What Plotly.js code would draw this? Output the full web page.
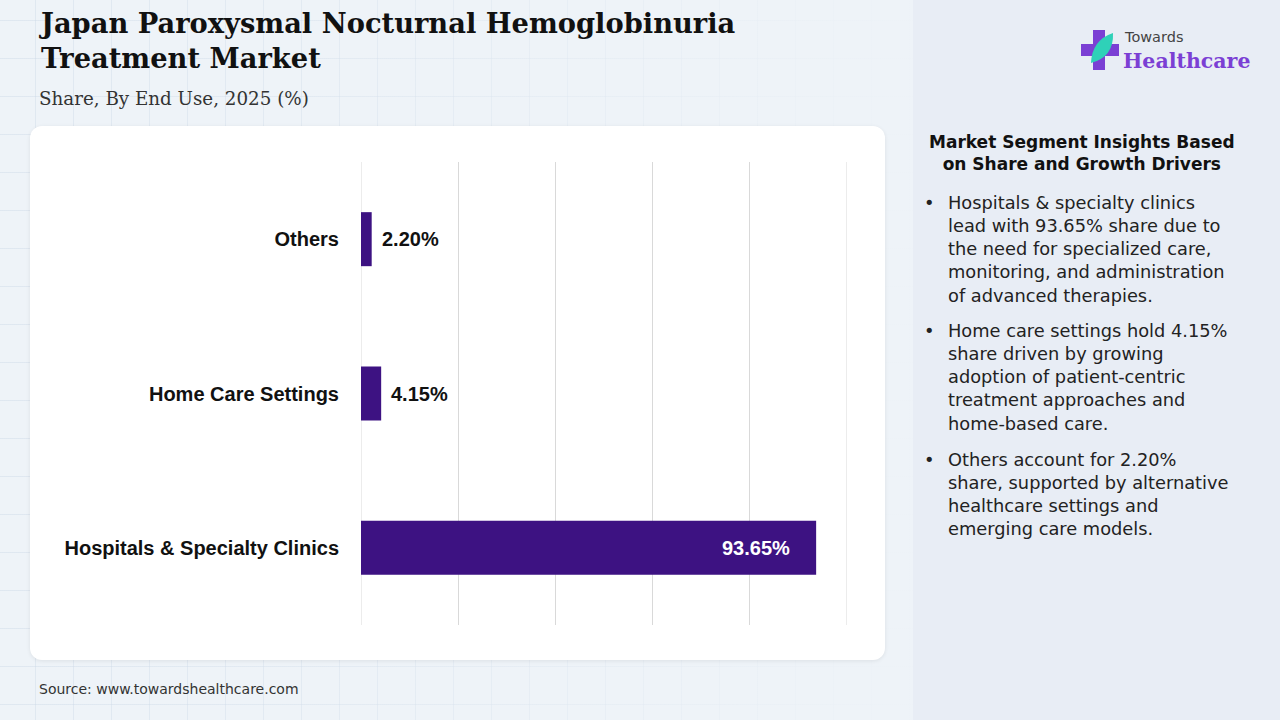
<!DOCTYPE html>
<html>
<head>
<meta charset="utf-8">
<script src="https://cdn.plot.ly/plotly-3.0.1.min.js"></script>
<style>
  html, body { margin:0; padding:0; width:1280px; height:720px; overflow:hidden; }
  body {
    background-color:#eef3f8;
    background-image:
      linear-gradient(to right, rgba(238,243,248,0) 0px, rgba(238,243,248,0.2) 300px, rgba(238,243,248,0.95) 900px),
      linear-gradient(to right, rgba(200,214,229,0.4) 1px, transparent 1px),
      linear-gradient(to bottom, rgba(200,214,229,0.4) 1px, transparent 1px);
    background-size: 100% 100%, 38px 38px, 38px 38px;
    background-position: 0 0, -3px 0, 0 -18px;
    position:relative;
  }
  #panel { position:absolute; left:913px; top:0; width:367px; height:720px; background:#e8edf5; }
  #card { position:absolute; left:30px; top:126px; width:855px; height:534px; background:#ffffff;
          border-radius:12px; box-shadow:0 1px 4px rgba(0,0,0,0.08); }
  #chart { position:absolute; left:0; top:0; width:1280px; height:720px; }
</style>
</head>
<body>
<div id="panel"></div>
<div id="card"></div>
<div id="chart"></div>
<script>
// ---- data ----
const categories = ["Hospitals & Specialty Clinics", "Home Care Settings", "Others"];
const shares = [93.65, 4.15, 2.20];
const valueLabels = ["93.65%", "4.15%", "2.20%"];
const axisRange = [0, 100];

const titleText = "Japan Paroxysmal Nocturnal Hemoglobinuria<br>Treatment Market";
const subtitleText = "Share, By End Use, 2025 (%)";
const sourceText = "Source: www.towardshealthcare.com";
const insightsHeading = "Market Segment Insights Based<br>on Share and Growth Drivers";
const insights = [
  "Hospitals & specialty clinics<br>lead with 93.65% share due to<br>the need for specialized care,<br>monitoring, and administration<br>of advanced therapies.",
  "Home care settings hold 4.15%<br>share driven by growing<br>adoption of patient-centric<br>treatment approaches and<br>home-based care.",
  "Others account for 2.20%<br>share, supported by alternative<br>healthcare settings and<br>emerging care models."
];

// ---- geometry helpers (pixel -> paper) ----
const W = 1280, H = 720;
const L = 361, R = 847, T = 162, B = 625;
const px = x => (x - L) / (R - L);
const py = y => (B - y) / (B - T);

const barColor = "#3d1282";
const labelFont = "Liberation Sans, Arial, sans-serif";
const textSans = "DejaVu Sans, sans-serif";
const serif = "DejaVu Serif, serif";

const trace = {
  type: "bar",
  orientation: "h",
  y: categories,
  x: shares,
  marker: { color: barColor },
  hoverinfo: "skip",
  cliponaxis: false
};

const annotations = [];
shares.forEach((v, i) => {
  const inside = v > 50;
  annotations.push({
    xref: "x", yref: "y", x: v, y: categories[i],
    text: "<b>" + valueLabels[i] + "</b>",
    showarrow: false,
    xanchor: inside ? "right" : "left",
    xshift: inside ? -24 : 8,
    font: { family: labelFont, size: 20, color: inside ? "#ffffff" : "#111111" }
  });
});
annotations.push({ xref:"paper", yref:"paper", x:px(37), y:py(5), xanchor:"left", yanchor:"top",
  text:"<b>"+titleText+"</b>", showarrow:false, align:"left",
  font:{ family: serif, size:27.3, color:"#111111" } });
annotations.push({ xref:"paper", yref:"paper", x:px(37), y:py(86), xanchor:"left", yanchor:"top",
  text: subtitleText, showarrow:false, align:"left",
  font:{ family: serif, size:18.3, color:"#333333" } });
annotations.push({ xref:"paper", yref:"paper", x:px(37), y:py(689), xanchor:"left", yanchor:"middle",
  text: sourceText, showarrow:false, align:"left",
  font:{ family: textSans, size:14, color:"#333333" } });
annotations.push({ xref:"paper", yref:"paper", x:px(1082), y:py(130), xanchor:"center", yanchor:"top",
  text:"<b>"+insightsHeading+"</b>", showarrow:false, align:"center",
  font:{ family: textSans, size:17, color:"#111111" } });
const bulletTops = [190, 318, 447];
insights.forEach((t, i) => {
  annotations.push({ xref:"paper", yref:"paper", x:px(922), y:py(bulletTops[i]), xanchor:"left", yanchor:"top",
    text:"•", showarrow:false, font:{ family: textSans, size:17.8, color:"#222222" } });
  annotations.push({ xref:"paper", yref:"paper", x:px(946), y:py(bulletTops[i]), xanchor:"left", yanchor:"top",
    text:t, showarrow:false, align:"left", font:{ family: textSans, size:17.8, color:"#222222" } });
});
annotations.push({ xref:"paper", yref:"paper", x:px(1122), y:py(37), xanchor:"left", yanchor:"middle",
  text:"Towards", showarrow:false, font:{ family: textSans, size:14.5, color:"#444444" } });
annotations.push({ xref:"paper", yref:"paper", x:px(1121), y:py(61), xanchor:"left", yanchor:"middle",
  text:"<b>Healthcare</b>", showarrow:false, font:{ family: serif, size:20.5, color:"#7b3fd4" } });

function pth(points) {
  return "M " + points.map(p => px(p[0]) + "," + py(p[1])).join(" L ") + " Z";
}
const shapes = [
  { type:"line", xref:"x", yref:"paper", x0:axisRange[0], x1:axisRange[0], y0:0, y1:1, layer:"below",
    line:{ color:"#d9d9d9", width:1 } },
  { type:"line", xref:"x", yref:"paper", x0:axisRange[1], x1:axisRange[1], y0:0, y1:1, layer:"below",
    line:{ color:"#d9d9d9", width:1 } },
  { type:"path", xref:"paper", yref:"paper", layer:"above", line:{width:0}, fillcolor:"#7b3fd4",
    path: pth([[1093,30],[1105,30],[1105,44],[1119,44],[1119,56],[1105,56],[1105,70],[1093,70],[1093,56],[1081,56],[1081,44],[1093,44]]) },
  { type:"path", xref:"paper", yref:"paper", layer:"above", line:{width:0}, fillcolor:"#2fd1b8",
    path: "M " + px(1091)+","+py(63) + " Q " + px(1092)+","+py(40) + " " + px(1113)+","+py(33) +
          " Q " + px(1114)+","+py(57) + " " + px(1091)+","+py(63) + " Z" }
];

const layout = {
  width: W, height: H,
  margin: { l: L, r: W - R, t: T, b: H - B, pad: 0 },
  paper_bgcolor: "rgba(0,0,0,0)",
  plot_bgcolor: "rgba(0,0,0,0)",
  showlegend: false,
  bargap: 0.65,
  xaxis: { range: axisRange, dtick: 20, showticklabels: false, showgrid: true,
           gridcolor: "#d9d9d9", gridwidth: 1, zeroline: false, showline: false, fixedrange: true },
  yaxis: { showgrid: false, zeroline: false, showline: false, ticks: "outside", ticklen: 17,
           tickcolor: "rgba(0,0,0,0)",
           tickfont: { family: labelFont, size: 20, color: "#111111", weight: "bold" }, fixedrange: true },
  annotations: annotations,
  shapes: shapes
};

Plotly.newPlot("chart", [trace], layout, { displayModeBar: false, staticPlot: true });
</script>
</body>
</html>
